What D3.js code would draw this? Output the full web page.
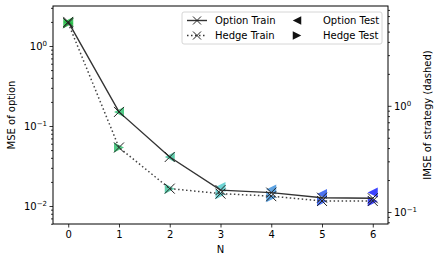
<!DOCTYPE html>
<html>
<head>
<meta charset="utf-8">
<script src="https://cdn.jsdelivr.net/npm/d3@7"></script>
<style>
  body { margin: 0; background: #fff; }
  text { font-family: "DejaVu Sans", sans-serif; fill: #000; }
</style>
</head>
<body>
<div id="chart"></div>
<script>
// Data
var steps = [0, 1, 2, 3, 4, 5, 6];
var optionTrain = [2.0, 0.15, 0.041, 0.0158, 0.0147, 0.0127, 0.0125];
var optionTest = [2.0, 0.15, 0.041, 0.0173, 0.0161, 0.0141, 0.0148];
var hedgeTrain = [6.0, 0.405, 0.166, 0.149, 0.141, 0.127, 0.127];
var hedgeTest = [6.0, 0.405, 0.166, 0.147, 0.138, 0.126, 0.126];
var xTicks = [0, 1, 2, 3, 4, 5, 6];
var leftTicks = [0.01, 0.1, 1];
var rightTicks = [0.1, 1];
var leftExp = ["\u22122", "\u22121", "0"];
var rightExp = ["\u22121", "0"];

var svgWidth = 440;
var svgHeight = 262;
var margin = { top: 6, right: 52, bottom: 38, left: 53 };
var width = svgWidth - margin.left - margin.right;
var height = svgHeight - margin.top - margin.bottom;

var svg = d3.select("#chart")
  .append("svg")
  .attr("width", svgWidth)
  .attr("height", svgHeight);

var chartGroup = svg.append("g")
  .attr("transform", `translate(${margin.left}, ${margin.top})`);

// Scales
var xScale = d3.scaleLinear().domain([-0.3, 6.3]).range([0, width]);
var yLeft = d3.scaleLog().domain([Math.pow(10, -2.225), Math.pow(10, 0.5)]).range([height, 0]);
var yRight = d3.scaleLog().domain([Math.pow(10, -1.113), Math.pow(10, 0.94)]).range([height, 0]);
var colorScale = d3.scaleLinear().domain([0, 3, 6]).range(["#22bb44", "#55cccc", "#1a22ff"]);

// minor ticks for a log scale
function minorTicks(scale) {
  var d = scale.domain(), out = [];
  for (var e = Math.floor(Math.log10(d[0])); e <= Math.ceil(Math.log10(d[1])); e++) {
    for (var k = 2; k <= 9; k++) {
      var v = k * Math.pow(10, e);
      if (v >= d[0] && v <= d[1]) out.push(v);
    }
  }
  return out;
}

// Axes
var bottomAxis = d3.axisBottom(xScale).tickValues(xTicks).tickSize(3.5).tickPadding(3).tickFormat(d3.format("d"));
var gx = chartGroup.append("g").attr("transform", `translate(0, ${height})`).call(bottomAxis);

var leftAxis = d3.axisLeft(yLeft).tickValues(leftTicks).tickSize(3.5).tickPadding(3).tickFormat("");
var gl = chartGroup.append("g").call(leftAxis);
chartGroup.append("g").call(d3.axisLeft(yLeft).tickValues(minorTicks(yLeft)).tickSize(2).tickFormat(""));

var rightAxis = d3.axisRight(yRight).tickValues(rightTicks).tickSize(3.5).tickPadding(3).tickFormat("");
var gr = chartGroup.append("g").attr("transform", `translate(${width}, 0)`).call(rightAxis);
chartGroup.append("g").attr("transform", `translate(${width}, 0)`)
  .call(d3.axisRight(yRight).tickValues(minorTicks(yRight)).tickSize(2).tickFormat(""));

chartGroup.selectAll(".domain").remove();
chartGroup.selectAll(".tick line").attr("stroke", "#000").attr("stroke-width", 0.8);
gx.selectAll("text").attr("font-size", 10).attr("font-family", "DejaVu Sans");

// log labels with superscripts
function logLabels(g, exps, anchor, dx) {
  g.selectAll(".tick").each(function (d, i) {
    var t = d3.select(this).append("text")
      .attr("x", dx)
      .attr("dy", "0.35em")
      .attr("text-anchor", anchor)
      .attr("font-size", 10);
    t.append("tspan").text("10");
    t.append("tspan").attr("font-size", 7).attr("dy", "-0.55em").text(exps[i]);
  });
}
logLabels(gl, leftExp, "end", -6);
logLabels(gr, rightExp, "start", 6);

// frame
chartGroup.append("rect")
  .attr("width", width).attr("height", height)
  .attr("fill", "none").attr("stroke", "#000").attr("stroke-width", 1);

// Test markers (triangles)
function triangle(dir) {
  var s = 5;
  return dir === "left"
    ? `M${-s},0L${s},${-s}L${s},${s}Z`
    : `M${s},0L${-s},${-s}L${-s},${s}Z`;
}

chartGroup.selectAll(".optTest")
  .data(steps)
  .enter()
  .append("path")
  .attr("d", triangle("left"))
  .attr("transform", d => `translate(${xScale(d)}, ${yLeft(optionTest[d])})`)
  .attr("fill", d => colorScale(d))
  .attr("opacity", 0.85);

chartGroup.selectAll(".hedgeTest")
  .data(steps)
  .enter()
  .append("path")
  .attr("d", triangle("right"))
  .attr("transform", d => `translate(${xScale(d)}, ${yRight(hedgeTest[d])})`)
  .attr("fill", d => colorScale(d))
  .attr("opacity", 0.85);

// Train lines
var lineLeft = d3.line().x(d => xScale(d)).y(d => yLeft(optionTrain[d]));
var lineRight = d3.line().x(d => xScale(d)).y(d => yRight(hedgeTrain[d]));

chartGroup.append("path")
  .attr("d", lineLeft(steps))
  .attr("fill", "none").attr("stroke", "#333").attr("stroke-width", 1.4);

chartGroup.append("path")
  .attr("d", lineRight(steps))
  .attr("fill", "none").attr("stroke", "#444").attr("stroke-width", 1.5)
  .attr("stroke-dasharray", "1.5,2.5");

function xMarker(sel, s) {
  return sel.append("path")
    .attr("d", `M${-s},${-s}L${s},${s}M${-s},${s}L${s},${-s}`)
    .attr("stroke", "#222").attr("stroke-width", 1).attr("fill", "none");
}

steps.forEach(function (d) {
  xMarker(chartGroup.append("g").attr("transform", `translate(${xScale(d)}, ${yLeft(optionTrain[d])})`), 5);
  xMarker(chartGroup.append("g").attr("transform", `translate(${xScale(d)}, ${yRight(hedgeTrain[d])})`), 5);
});

// Legend
var legend = svg.append("g").attr("transform", "translate(182, 12)");
legend.append("rect")
  .attr("width", 200).attr("height", 32).attr("rx", 2)
  .attr("fill", "#fff").attr("fill-opacity", 0.8)
  .attr("stroke", "#ccc").attr("stroke-width", 0.8);

var legendItems = [
  { label: "Option Train", col: 0, row: 0, kind: "solid" },
  { label: "Hedge Train", col: 0, row: 1, kind: "dotted" },
  { label: "Option Test", col: 1, row: 0, kind: "left" },
  { label: "Hedge Test", col: 1, row: 1, kind: "right" }
];

legendItems.forEach(function (it) {
  var gx0 = it.col === 0 ? 5 : 105;
  var gy = 8.5 + it.row * 15;
  var g = legend.append("g").attr("transform", `translate(${gx0}, ${gy})`);
  if (it.kind === "solid" || it.kind === "dotted") {
    g.append("line").attr("x1", 0).attr("x2", 20).attr("y1", 0).attr("y2", 0)
      .attr("stroke", "#333").attr("stroke-width", 1.4)
      .attr("stroke-dasharray", it.kind === "dotted" ? "1.5,2.5" : null);
    xMarker(g.append("g").attr("transform", "translate(10, 0)"), 4);
  } else {
    g.append("path").attr("d", triangle(it.kind)).attr("transform", "translate(10, 0) scale(0.85)")
      .attr("fill", "#111");
  }
  g.append("text").attr("x", it.col === 0 ? 28 : 36).attr("dy", "0.35em").attr("font-size", 10).text(it.label);
});

// Axis labels
svg.append("text")
  .attr("transform", `translate(15, ${margin.top + height / 2}) rotate(-90)`)
  .attr("text-anchor", "middle")
  .attr("font-size", 10)
  .text("MSE of option");

svg.append("text")
  .attr("x", margin.left + xScale(3))
  .attr("y", 253)
  .attr("text-anchor", "middle")
  .attr("font-size", 10)
  .text("N");

svg.append("text")
  .attr("transform", `translate(431, ${margin.top + height / 2}) rotate(-90)`)
  .attr("text-anchor", "middle")
  .attr("font-size", 10)
  .text("IMSE of strategy (dashed)");
</script>
</body>
</html>
